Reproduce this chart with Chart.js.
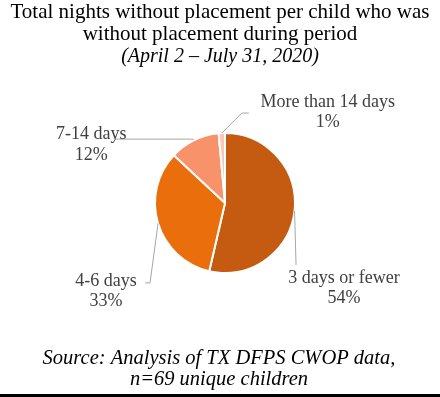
<!DOCTYPE html>
<html>
<head>
<meta charset="utf-8">
<script src="https://cdn.jsdelivr.net/npm/chart.js@4.4.0/dist/chart.umd.min.js"></script>
<style>
  html, body { margin: 0; padding: 0; background: #ffffff; }
  #wrap { width: 440px; height: 397px; position: relative; }
</style>
</head>
<body>
<div id="wrap"><canvas id="c" width="440" height="397"></canvas></div>
<script>
// ---- data ----
const categories = ['3 days or fewer', '4-6 days', '7-14 days', 'More than 14 days'];
const childCounts = [37, 23, 8, 1];           // n = 69 unique children
const percentLabels = ['54%', '33%', '12%', '1%'];
const titleLines = ['Total nights without placement per child who was', 'without placement during period'];
const subtitleText = '(April 2 \u2013 July 31, 2020)';
const sourceLines = ['Source: Analysis of TX DFPS CWOP data,', 'n=69 unique children'];

// ---- styles ----
const sliceColors = ['#C55A11', '#EB6E0C', '#F8926A', '#FAC8B4'];
// label layout relative to each slice's outer mid-point (leader elbows + text anchor)
const labelLayout = [
  { line: [[1.5, 54]], text: [49.5, 71.7] },
  { line: [[-8, 59.5], [-13, 59.5]], text: [-52, 62.2] },
  { line: [[-1, -1], [-79, -1]], text: [-103, -1] },
  { line: [[20, -20], [27, -20]], text: [106, -26.4] }
];

const textPlugin = {
  id: 'textPlugin',
  afterDraw(chart) {
    const ctx = chart.ctx;
    ctx.save();
    // title
    ctx.fillStyle = '#000000';
    ctx.textAlign = 'center';
    ctx.textBaseline = 'alphabetic';
    ctx.font = '21px "Liberation Serif", "Times New Roman", serif';
    ctx.fillText(titleLines[0], 220, 18);
    ctx.fillText(titleLines[1], 220, 40);
    ctx.font = 'italic 20px "Liberation Serif", "Times New Roman", serif';
    ctx.fillText(subtitleText, 220, 62);
    // source
    ctx.font = 'italic 20.5px "Liberation Serif", "Times New Roman", serif';
    ctx.fillText(sourceLines[0], 219, 364);
    ctx.fillText(sourceLines[1], 219, 385);
    // bottom rule
    ctx.fillStyle = '#000000';
    ctx.fillRect(0, 394, 440, 3);

    // data labels with leader lines
    const meta = chart.getDatasetMeta(0);
    meta.data.forEach((arc, i) => {
      const mid = (arc.startAngle + arc.endAngle) / 2;
      const ax = arc.x + Math.cos(mid) * arc.outerRadius;
      const ay = arc.y + Math.sin(mid) * arc.outerRadius;
      const lay = labelLayout[i];
      ctx.strokeStyle = '#A6A6A6';
      ctx.lineWidth = 1;
      ctx.beginPath();
      ctx.moveTo(ax, ay);
      lay.line.forEach(p => ctx.lineTo(ax + p[0], ay + p[1]));
      ctx.stroke();
      ctx.fillStyle = '#404040';
      ctx.font = '18px "Liberation Serif", "Times New Roman", serif';
      ctx.textAlign = 'center';
      ctx.textBaseline = 'alphabetic';
      const tx = ax + lay.text[0], ty = ay + lay.text[1];
      ctx.fillText(categories[i], tx, ty);
      ctx.fillText(percentLabels[i], tx, ty + 20.5);
    });
    ctx.restore();
  }
};

new Chart(document.getElementById('c'), {
  type: 'pie',
  data: {
    labels: categories,
    datasets: [{
      data: childCounts,
      backgroundColor: sliceColors,
      borderColor: '#ffffff',
      borderWidth: 2
    }]
  },
  options: {
    responsive: false,
    animation: false,
    devicePixelRatio: 1,
    layout: { padding: { left: 154, right: 144, top: 132, bottom: 123 } },
    plugins: {
      legend: { display: false },
      title: { display: false },
      tooltip: { enabled: false }
    }
  },
  plugins: [textPlugin]
});
</script>
</body>
</html>
